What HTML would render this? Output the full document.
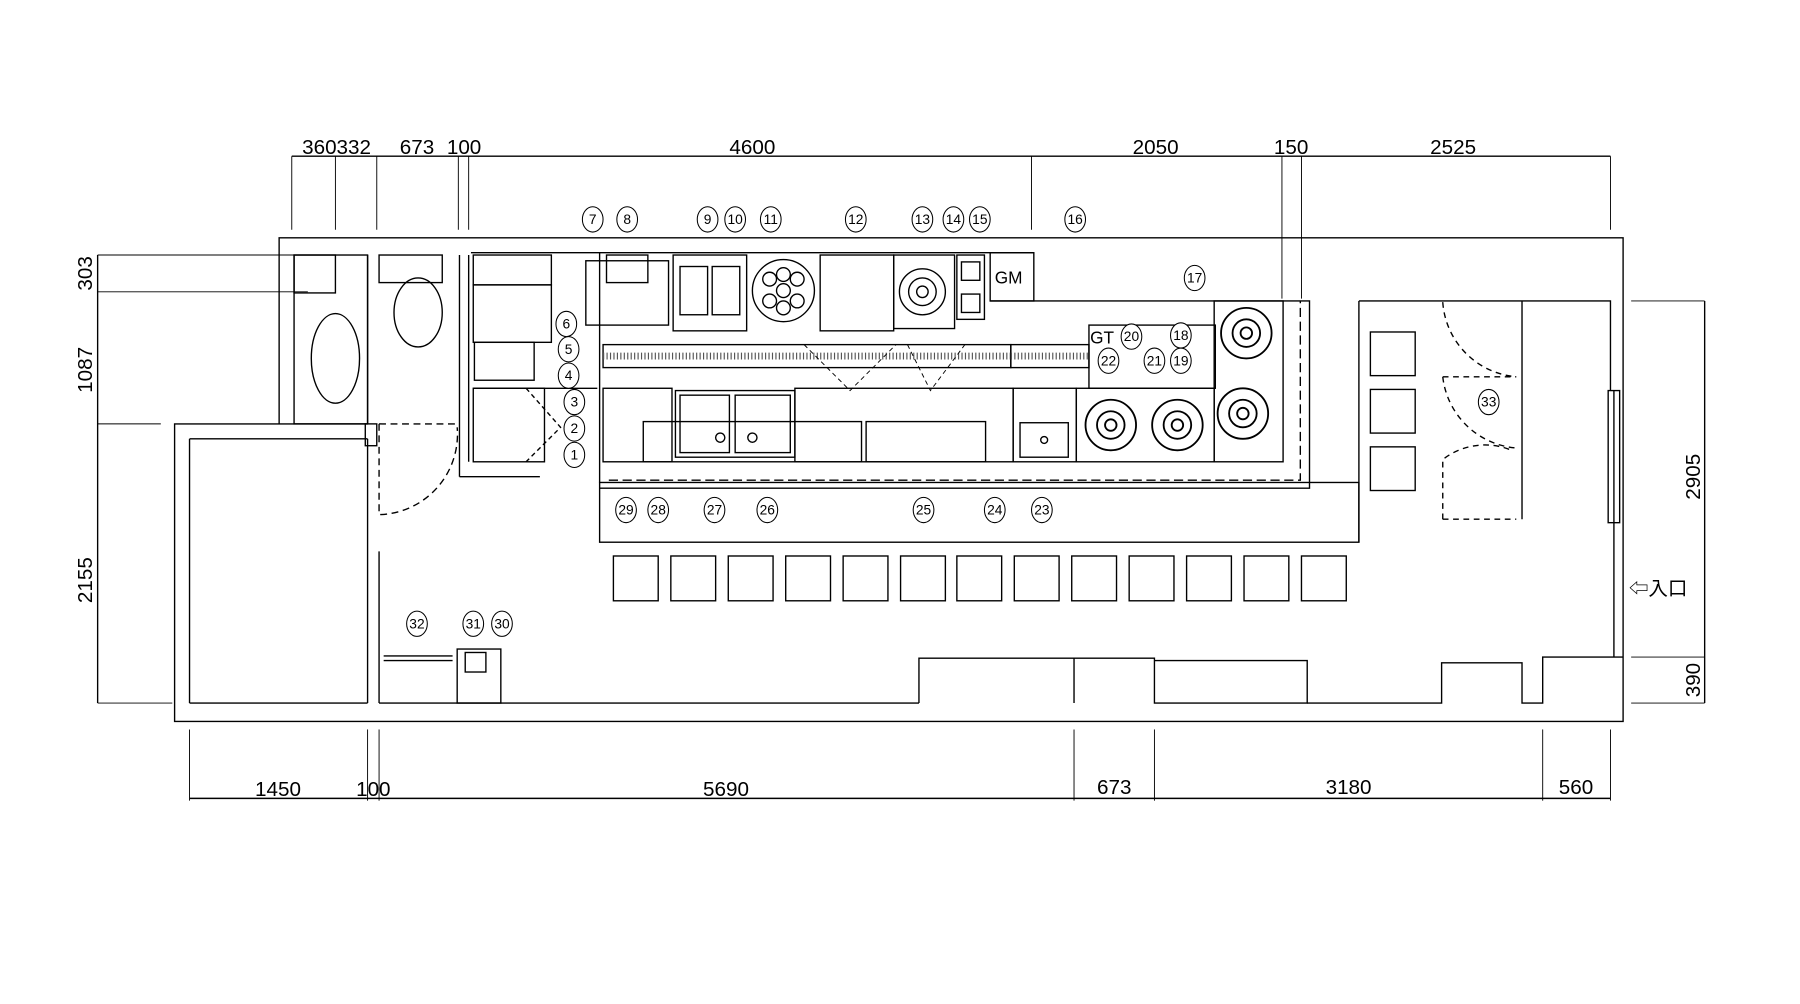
<!DOCTYPE html>
<html><head><meta charset="utf-8"><style>
html,body{margin:0;padding:0;background:#fff}
svg{display:block}
text{font-family:"Liberation Sans","Noto Sans CJK JP",sans-serif;fill:#000}
.n{font-size:12px;text-anchor:middle}
.d{font-size:18px;text-anchor:middle}
</style></head><body>
<svg width="1800" height="1004" viewBox="0 0 1567 874" preserveAspectRatio="none" xmlns="http://www.w3.org/2000/svg">
<rect width="1567" height="874" fill="#fff"/>
<g stroke="#000" stroke-width="1.2" fill="none">
<line x1="254" y1="136" x2="1402" y2="136"/>
<g stroke-width="0.8">
<line x1="254" y1="136" x2="254" y2="200"/><line x1="292" y1="136" x2="292" y2="200"/><line x1="328" y1="136" x2="328" y2="200"/>
<line x1="399" y1="136" x2="399" y2="200"/><line x1="408" y1="136" x2="408" y2="200"/><line x1="898" y1="136" x2="898" y2="200"/>
<line x1="1116" y1="136" x2="1116" y2="260"/><line x1="1133" y1="136" x2="1133" y2="260"/><line x1="1402" y1="136" x2="1402" y2="200"/>
</g>
<line x1="85" y1="222" x2="85" y2="612"/>
<g stroke-width="0.8"><line x1="85" y1="222" x2="268" y2="222"/><line x1="85" y1="254" x2="268" y2="254"/><line x1="85" y1="369" x2="140" y2="369"/><line x1="85" y1="612" x2="150" y2="612"/></g>
<line x1="1484" y1="262" x2="1484" y2="612"/>
<g stroke-width="0.8"><line x1="1420" y1="262" x2="1484" y2="262"/><line x1="1420" y1="572" x2="1484" y2="572"/><line x1="1420" y1="612" x2="1484" y2="612"/></g>
<line x1="165" y1="695" x2="1402" y2="695"/>
<g stroke-width="0.8">
<line x1="165" y1="635" x2="165" y2="697"/><line x1="320" y1="635" x2="320" y2="697"/><line x1="330" y1="635" x2="330" y2="697"/>
<line x1="935" y1="635" x2="935" y2="697"/><line x1="1005" y1="635" x2="1005" y2="697"/><line x1="1343" y1="635" x2="1343" y2="697"/><line x1="1402" y1="635" x2="1402" y2="697"/>
</g>
<polyline points="243,369 243,207 1413,207 1413,628 152,628 152,369 320,369"/>
<line x1="165" y1="612" x2="320" y2="612"/><line x1="165" y1="382" x2="165" y2="612"/><line x1="165" y1="382" x2="320" y2="382"/>
<line x1="320" y1="382" x2="320" y2="612"/><line x1="330" y1="480" x2="330" y2="612"/>
<line x1="330" y1="612" x2="800" y2="612"/>
<polyline points="800,612 800,573 935,573 935,612"/><polyline points="935,573 1005,573 1005,612 1138,612 1138,575 1005,575"/>
<polyline points="1138,612 1255,612 1255,577 1325,577 1325,612 1343,612 1343,572 1413,572"/>
<line x1="1405" y1="340" x2="1405" y2="572"/>
<rect x="256" y="222" width="64" height="147"/><rect x="256" y="222" width="36" height="33"/>
<ellipse cx="292" cy="312" rx="21" ry="39"/>
<rect x="330" y="222" width="55" height="24"/><ellipse cx="364" cy="272" rx="21" ry="30"/>
<line x1="320" y1="222" x2="320" y2="369"/><line x1="400" y1="222" x2="400" y2="415"/><line x1="408" y1="222" x2="408" y2="402"/>
<rect x="318" y="369" width="10" height="19"/>
<path d="M330 369 H398" stroke-dasharray="6 4"/><path d="M330 369 V448 A70 70 0 0 0 398 372" stroke-dasharray="6 4"/>
<line x1="400" y1="415" x2="470" y2="415"/>
<rect x="412" y="222" width="68" height="26"/><rect x="412" y="248" width="68" height="50"/>
<rect x="413" y="298" width="52" height="33"/><line x1="412" y1="338" x2="520" y2="338"/>
<rect x="412" y="338" width="62" height="64"/>
<path d="M458 338 L488 372 L458 402" stroke-dasharray="4 3"/>
<line x1="410" y1="220" x2="900" y2="220"/><rect x="862" y="220" width="38" height="42"/>
<polyline points="862,262 1140,262 1140,425 522,425"/>
<rect x="522" y="420" width="661" height="52"/>
<line x1="1183" y1="262" x2="1183" y2="472"/>
<path d="M530 418 H1132 V262" stroke-dasharray="8 4"/>
<line x1="522" y1="220" x2="522" y2="420"/>
<rect x="510" y="227" width="72" height="56"/><rect x="528" y="222" width="36" height="24"/>
<rect x="586" y="222" width="64" height="66"/><rect x="592" y="232" width="24" height="42"/><rect x="620" y="232" width="24" height="42"/>
<circle cx="682" cy="253" r="27"/>
<circle cx="670" cy="243" r="6"/><circle cx="682" cy="239" r="6"/><circle cx="694" cy="243" r="6"/><circle cx="670" cy="262" r="6"/><circle cx="682" cy="253" r="6"/><circle cx="694" cy="262" r="6"/><circle cx="682" cy="268" r="6"/>
<rect x="714" y="222" width="64" height="66"/>
<rect x="778" y="222" width="53" height="64"/><circle cx="803" cy="254" r="20"/><circle cx="803" cy="254" r="12"/><circle cx="803" cy="254" r="5"/>
<rect x="833" y="222" width="24" height="56"/><rect x="837" y="228" width="16" height="16"/><rect x="837" y="256" width="16" height="16"/>
<rect x="525" y="300" width="355" height="20"/>
<line x1="525" y1="310" x2="880" y2="310" stroke-dasharray="1 2" stroke-width="6" stroke="#555"/>
<rect x="880" y="300" width="68" height="20"/>
<line x1="880" y1="310" x2="948" y2="310" stroke-dasharray="1 2" stroke-width="6" stroke="#555"/>
<rect x="948" y="283" width="110" height="55"/>
<rect x="525" y="338" width="60" height="64"/>
<rect x="588" y="340" width="104" height="58"/><rect x="592" y="344" width="43" height="50"/><rect x="640" y="344" width="48" height="50"/>
<circle cx="627" cy="381" r="4"/><circle cx="655" cy="381" r="4"/>
<rect x="692" y="338" width="190" height="64"/><rect x="560" y="367" width="190" height="35"/><rect x="754" y="367" width="104" height="35"/>
<rect x="882" y="338" width="55" height="64"/><rect x="888" y="368" width="42" height="30"/><circle cx="909" cy="383" r="3"/>
<rect x="937" y="338" width="120" height="64"/><rect x="1057" y="262" width="60" height="140"/>
<g stroke-width="1.6">
<circle cx="1085" cy="290" r="22"/><circle cx="1085" cy="290" r="12"/><circle cx="1085" cy="290" r="5"/>
<circle cx="967" cy="370" r="22"/><circle cx="967" cy="370" r="12"/><circle cx="967" cy="370" r="5"/>
<circle cx="1025" cy="370" r="22"/><circle cx="1025" cy="370" r="12"/><circle cx="1025" cy="370" r="5"/>
<circle cx="1082" cy="360" r="22"/><circle cx="1082" cy="360" r="12"/><circle cx="1082" cy="360" r="5"/>
</g>
<path d="M700 300 L740 340 L780 300 M790 300 L810 340 L840 300" stroke-dasharray="4 3" stroke-width="0.8"/>
<g>
<rect x="534" y="484" width="39" height="39"/><rect x="584" y="484" width="39" height="39"/><rect x="634" y="484" width="39" height="39"/>
<rect x="684" y="484" width="39" height="39"/><rect x="734" y="484" width="39" height="39"/><rect x="784" y="484" width="39" height="39"/>
<rect x="833" y="484" width="39" height="39"/><rect x="883" y="484" width="39" height="39"/><rect x="933" y="484" width="39" height="39"/>
<rect x="983" y="484" width="39" height="39"/><rect x="1033" y="484" width="39" height="39"/><rect x="1083" y="484" width="39" height="39"/>
<rect x="1133" y="484" width="39" height="39"/>
<rect x="1193" y="289" width="39" height="38"/><rect x="1193" y="339" width="39" height="38"/><rect x="1193" y="389" width="39" height="38"/>
</g>
<polyline points="1183,262 1402,262 1402,340"/>
<line x1="1325" y1="262" x2="1325" y2="452"/>
<path d="M1256 263 A70 70 0 0 0 1320 328 M1256 328 H1320 M1256 328 A70 70 0 0 0 1320 390 M1256 452 H1320 M1256 452 V400 A60 60 0 0 1 1316 392" stroke-dasharray="5 4"/>
<rect x="1400" y="340" width="10" height="115"/>
<rect x="398" y="565" width="38" height="47"/><rect x="405" y="568" width="18" height="17"/>
<line x1="334" y1="571" x2="394" y2="571"/><line x1="334" y1="575" x2="394" y2="575"/>
</g>
<text class="d" x="293" y="134">360332</text><text class="d" x="363" y="134">673</text><text class="d" x="404" y="134">100</text>
<text class="d" x="655" y="134">4600</text><text class="d" x="1006" y="134">2050</text><text class="d" x="1124" y="134">150</text><text class="d" x="1265" y="134">2525</text>
<text class="d" x="242" y="693">1450</text><text class="d" x="325" y="693">100</text><text class="d" x="632" y="693">5690</text>
<text class="d" x="970" y="691">673</text><text class="d" x="1174" y="691">3180</text><text class="d" x="1372" y="691">560</text>
<text class="d" transform="translate(80,238) rotate(-90)">303</text><text class="d" transform="translate(80,322) rotate(-90)">1087</text>
<text class="d" transform="translate(80,505) rotate(-90)">2155</text><text class="d" transform="translate(1480,415) rotate(-90)">2905</text>
<text class="d" transform="translate(1480,592) rotate(-90)">390</text>
<text x="866" y="247" style="font-size:15px">GM</text><text x="949" y="299" style="font-size:15px">GT</text>
<text x="1418" y="518" style="font-size:17px">⇦入口</text>
<g stroke="#000" stroke-width="0.9" fill="#fff">
<ellipse cx="516" cy="191" rx="9" ry="11"/><ellipse cx="546" cy="191" rx="9" ry="11"/><ellipse cx="616" cy="191" rx="9" ry="11"/><ellipse cx="640" cy="191" rx="9" ry="11"/><ellipse cx="671" cy="191" rx="9" ry="11"/><ellipse cx="745" cy="191" rx="9" ry="11"/><ellipse cx="803" cy="191" rx="9" ry="11"/><ellipse cx="830" cy="191" rx="9" ry="11"/><ellipse cx="853" cy="191" rx="9" ry="11"/><ellipse cx="936" cy="191" rx="9" ry="11"/>
<ellipse cx="1040" cy="242" rx="9" ry="11"/><ellipse cx="1028" cy="292" rx="9" ry="11"/><ellipse cx="1028" cy="314" rx="9" ry="11"/><ellipse cx="985" cy="293" rx="9" ry="11"/><ellipse cx="1005" cy="314" rx="9" ry="11"/><ellipse cx="965" cy="314" rx="9" ry="11"/>
<ellipse cx="493" cy="282" rx="9" ry="11"/><ellipse cx="495" cy="304" rx="9" ry="11"/><ellipse cx="495" cy="327" rx="9" ry="11"/><ellipse cx="500" cy="350" rx="9" ry="11"/><ellipse cx="500" cy="373" rx="9" ry="11"/><ellipse cx="500" cy="396" rx="9" ry="11"/>
<ellipse cx="545" cy="444" rx="9" ry="11"/><ellipse cx="573" cy="444" rx="9" ry="11"/><ellipse cx="622" cy="444" rx="9" ry="11"/><ellipse cx="668" cy="444" rx="9" ry="11"/><ellipse cx="804" cy="444" rx="9" ry="11"/><ellipse cx="866" cy="444" rx="9" ry="11"/><ellipse cx="907" cy="444" rx="9" ry="11"/>
<ellipse cx="363" cy="543" rx="9" ry="11"/><ellipse cx="412" cy="543" rx="9" ry="11"/><ellipse cx="437" cy="543" rx="9" ry="11"/><ellipse cx="1296" cy="350" rx="9" ry="11"/>
</g>
<g>
<text class="n" x="516" y="195">7</text><text class="n" x="546" y="195">8</text><text class="n" x="616" y="195">9</text><text class="n" x="640" y="195">10</text><text class="n" x="671" y="195">11</text><text class="n" x="745" y="195">12</text><text class="n" x="803" y="195">13</text><text class="n" x="830" y="195">14</text><text class="n" x="853" y="195">15</text><text class="n" x="936" y="195">16</text>
<text class="n" x="1040" y="246">17</text><text class="n" x="1028" y="296">18</text><text class="n" x="1028" y="318">19</text><text class="n" x="985" y="297">20</text><text class="n" x="1005" y="318">21</text><text class="n" x="965" y="318">22</text>
<text class="n" x="493" y="286">6</text><text class="n" x="495" y="308">5</text><text class="n" x="495" y="331">4</text><text class="n" x="500" y="354">3</text><text class="n" x="500" y="377">2</text><text class="n" x="500" y="400">1</text>
<text class="n" x="545" y="448">29</text><text class="n" x="573" y="448">28</text><text class="n" x="622" y="448">27</text><text class="n" x="668" y="448">26</text><text class="n" x="804" y="448">25</text><text class="n" x="866" y="448">24</text><text class="n" x="907" y="448">23</text>
<text class="n" x="363" y="547">32</text><text class="n" x="412" y="547">31</text><text class="n" x="437" y="547">30</text><text class="n" x="1296" y="354">33</text>
</g>
</svg>
</body></html>
